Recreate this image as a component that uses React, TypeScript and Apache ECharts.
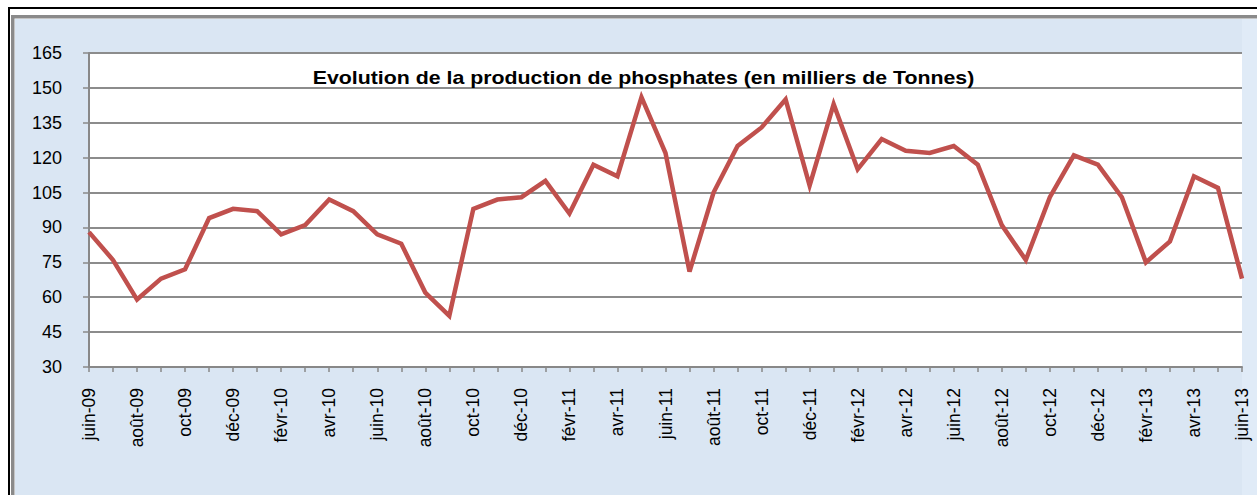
import React, { useEffect, useRef } from "react";
import * as echarts from "echarts";

const months = [
  "juin-09", "juil-09", "août-09", "sept-09", "oct-09", "nov-09", "déc-09",
  "janv-10", "févr-10", "mars-10", "avr-10", "mai-10", "juin-10", "juil-10", "août-10", "sept-10", "oct-10", "nov-10", "déc-10",
  "janv-11", "févr-11", "mars-11", "avr-11", "mai-11", "juin-11", "juil-11", "août-11", "sept-11", "oct-11", "nov-11", "déc-11",
  "janv-12", "févr-12", "mars-12", "avr-12", "mai-12", "juin-12", "juil-12", "août-12", "sept-12", "oct-12", "nov-12", "déc-12",
  "janv-13", "févr-13", "mars-13", "avr-13", "mai-13", "juin-13",
];

const production = [
  88, 76, 59, 68, 72, 94, 98,
  97, 87, 91, 102, 97, 87, 83, 62, 52, 98, 102, 103,
  110, 96, 117, 112, 146, 122, 71, 105, 125, 133, 145, 108,
  143, 115, 128, 123, 122, 125, 117, 91, 76, 103, 121, 117,
  103, 75, 84, 112, 107, 68,
];

const title = "Evolution de la production de phosphates (en milliers de Tonnes)";
const yMin = 30;
const yMax = 165;
const yStep = 15;

const FONT = "'Liberation Sans', Arial, sans-serif";

export default function App() {
  const ref = useRef<HTMLDivElement>(null);
  useEffect(() => {
    if (!ref.current) return;
    const chart = echarts.init(ref.current, null, { renderer: "svg" });
    chart.setOption({
      animation: false,
      backgroundColor: "#ffffff",
      graphic: [
        { type: "rect", z: -10, shape: { x: 15, y: 19, width: 1242, height: 476 }, style: { fill: "#dae6f3" } },
        { type: "rect", z: -10, shape: { x: 1242, y: 19, width: 15, height: 476 }, style: { fill: "#e0ebf7" } },
        { type: "rect", z: -9, shape: { x: 11, y: 15, width: 1246, height: 3.5 }, style: { fill: "#8a8a8a" } },
        { type: "rect", z: -9, shape: { x: 11, y: 15, width: 3.5, height: 480 }, style: { fill: "#8a8a8a" } },
        { type: "rect", z: -9, shape: { x: 8, y: 7, width: 1249, height: 2 }, style: { fill: "#000000" } },
        { type: "rect", z: -9, shape: { x: 8, y: 7, width: 2, height: 488 }, style: { fill: "#000000" } },
        {
          type: "text",
          z: 10,
          x: 643.5,
          y: 77.5,
          scaleX: 1.185,
          style: {
            text: title,
            fontFamily: FONT,
            fontSize: 18,
            fontWeight: "bold",
            fill: "#000000",
            align: "center",
            verticalAlign: "middle",
          },
        },
      ],
      grid: {
        left: 89,
        right: 15,
        top: 53,
        bottom: 128,
        show: true,
        backgroundColor: "#ffffff",
        borderWidth: 0,
      },
      xAxis: {
        type: "category",
        data: months,
        boundaryGap: false,
        axisLine: { lineStyle: { color: "#888888", width: 2 } },
        axisTick: { show: true, interval: 0, length: 5, lineStyle: { color: "#888888", width: 1.5 } },
        axisLabel: {
          interval: 1,
          rotate: 90,
          margin: 21,
          fontFamily: FONT,
          fontSize: 17.5,
          color: "#000000",
        },
        splitLine: { show: false },
      },
      yAxis: {
        type: "value",
        min: yMin,
        max: yMax,
        interval: yStep,
        axisLine: { show: true, lineStyle: { color: "#888888", width: 2 } },
        axisTick: { show: true, length: 6, lineStyle: { color: "#888888", width: 1.5 } },
        axisLabel: { margin: 27, fontFamily: FONT, fontSize: 18, color: "#000000" },
        splitLine: { show: true, lineStyle: { color: "#8c8c8c", width: 2 } },
      },
      series: [
        {
          type: "line",
          data: production,
          showSymbol: false,
          symbol: "none",
          lineStyle: { color: "#c0504d", width: 4.5, join: "miter" },
          itemStyle: { color: "#c0504d" },
        },
      ],
    });
    return () => chart.dispose();
  }, []);
  return (
    <div
      ref={ref}
      style={{ position: "fixed", left: 0, top: 0, width: 1257, height: 495 }}
    />
  );
}
